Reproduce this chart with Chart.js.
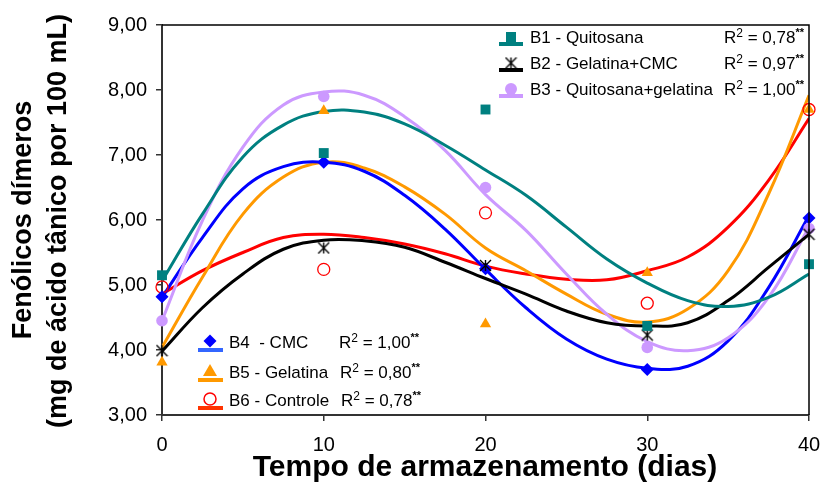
<!DOCTYPE html>
<html>
<head>
<meta charset="utf-8">
<script src="https://cdn.jsdelivr.net/npm/chart.js@4.4.1/dist/chart.umd.min.js"></script>
<style>
  html, body { margin: 0; padding: 0; background: #fff; }
  #wrap { width: 821px; height: 484px; position: relative; }
</style>
</head>
<body>
<div id="wrap"><canvas id="c" width="821" height="484"></canvas></div>
<script>
// Storage days for the measured samples
const days = [0, 10, 20, 30, 40];

// Measured dimeric phenolics (mg tannic acid / 100 mL)
const b1Values = [5.15, 7.03, 7.70, 4.37, 5.32];
const b2Values = [3.99, 5.57, 5.30, 4.23, 5.78];
const b3Values = [4.45, 7.90, 6.50, 4.04, 5.87];
const b4Values = [4.82, 6.89, 5.25, 3.70, 6.03];
const b5Values = [3.81, 7.68, 4.40, 5.19, 7.70];
const b6Values = [4.97, 5.24, 6.11, 4.72, 7.70];

// Polynomial trend lines, sampled every 2.5 days
const trendDays = [0, 2.5, 5, 7.5, 10, 12.5, 15, 17.5, 20, 22.5, 25, 27.5, 30, 32.5, 35, 37.5, 40];
const b1Trend = [5.06, 6.09, 6.97, 7.46, 7.67, 7.66, 7.48, 7.15, 6.77, 6.38, 5.89, 5.40, 5.03, 4.76, 4.67, 4.81, 5.17];
const b2Trend = [3.98, 4.65, 5.17, 5.55, 5.69, 5.68, 5.58, 5.35, 5.10, 4.86, 4.60, 4.42, 4.37, 4.42, 4.76, 5.27, 5.78];
const b3Trend = [4.45, 5.99, 7.12, 7.77, 7.97, 7.92, 7.59, 7.07, 6.39, 5.84, 5.17, 4.55, 4.13, 3.99, 4.19, 4.81, 5.89];
const b4Trend = [4.81, 5.73, 6.48, 6.82, 6.89, 6.75, 6.38, 5.86, 5.24, 4.65, 4.17, 3.86, 3.72, 3.75, 4.14, 4.96, 6.07];
const b5Trend = [4.04, 5.12, 6.09, 6.66, 6.89, 6.80, 6.51, 6.09, 5.57, 5.22, 4.86, 4.55, 4.43, 4.63, 5.22, 6.40, 7.92];
const b6Trend = [4.86, 5.22, 5.50, 5.73, 5.78, 5.73, 5.63, 5.48, 5.29, 5.17, 5.09, 5.08, 5.22, 5.43, 5.89, 6.61, 7.56];

// Legend texts
const seriesNames = ['B1 - Quitosana', 'B2 - Gelatina+CMC', 'B3 - Quitosana+gelatina',
                     'B4  - CMC', 'B5 - Gelatina', 'B6 - Controle'];
const r2Values = ['0,78', '0,97', '1,00', '1,00', '0,80', '0,78'];

const FONT = '"Liberation Sans", Arial, sans-serif';
const colors = ['#008080', '#000000', '#CC99FF', '#0000FF', '#FF9900', '#FF0000'];
const legendLineColors = ['#008080', '#000000', '#CC99FF', '#3366FF', '#FF9900', '#FF3300'];

// asterisk-like marker: an X crossed by a vertical stroke
function makeStar(size, color) {
  const cv = document.createElement('canvas');
  cv.width = size; cv.height = size;
  const g = cv.getContext('2d');
  g.strokeStyle = color; g.lineWidth = 1.4;
  const m = 1, s = size - 1;
  g.beginPath();
  g.moveTo(m, m); g.lineTo(s, s);
  g.moveTo(s, m); g.lineTo(m, s);
  g.moveTo(size / 2, m); g.lineTo(size / 2, s);
  g.stroke();
  return cv;
}
const starImg = makeStar(13, '#000');

const toXY = (xs, ys) => xs.map((x, i) => ({ x: x, y: ys[i] }));

const trends = [b1Trend, b2Trend, b3Trend, b4Trend, b5Trend, b6Trend];
const values = [b1Values, b2Values, b3Values, b4Values, b5Values, b6Values];
const markerStyles = [
  { pointStyle: 'rect', radius: 7, fill: true },
  { pointStyle: starImg, radius: 6.5, fill: false },
  { pointStyle: 'circle', radius: 5.8, fill: true },
  { pointStyle: 'rectRot', radius: 6.5, fill: true },
  { pointStyle: 'triangle', radius: 6.5, fill: true },
  { pointStyle: 'circle', radius: 6, fill: false }
];

const datasets = [];
trends.forEach((t, i) => {
  datasets.push({
    type: 'line',
    label: seriesNames[i] + ' (tendência)',
    data: toXY(trendDays, t),
    borderColor: colors[i],
    borderWidth: 3,
    pointRadius: 0,
    tension: 0.4,
    fill: false,
    order: 2
  });
});
values.forEach((v, i) => {
  const m = markerStyles[i];
  datasets.push({
    type: 'scatter',
    label: seriesNames[i],
    data: toXY(days, v),
    pointStyle: m.pointStyle,
    pointRadius: m.radius,
    pointHoverRadius: m.radius,
    backgroundColor: m.fill ? colors[i] : 'rgba(0,0,0,0)',
    borderColor: colors[i],
    borderWidth: m.fill ? 0 : 1.3,
    showLine: false,
    clip: false,
    order: 1
  });
});

function drawMarker(ctx, kind, x, y, color) {
  ctx.save();
  ctx.fillStyle = color; ctx.strokeStyle = color;
  ctx.beginPath();
  if (kind === 0) {
    ctx.fillRect(x - 5, y - 5, 10, 10);
  } else if (kind === 1) {
    ctx.drawImage(starImg, x - 6.5, y - 6.5);
  } else if (kind === 2) {
    ctx.arc(x, y, 6, 0, Math.PI * 2); ctx.fill();
  } else if (kind === 3) {
    ctx.moveTo(x, y - 6.5); ctx.lineTo(x + 6.5, y); ctx.lineTo(x, y + 6.5); ctx.lineTo(x - 6.5, y);
    ctx.closePath(); ctx.fill();
  } else if (kind === 4) {
    ctx.moveTo(x, y - 7); ctx.lineTo(x + 7, y + 5); ctx.lineTo(x - 7, y + 5);
    ctx.closePath(); ctx.fill();
  } else {
    ctx.lineWidth = 1.5;
    ctx.arc(x, y, 6, 0, Math.PI * 2); ctx.stroke();
  }
  ctx.restore();
}

// "R² = v**" with superscripts; returns width, draws when draw = true
function r2Text(ctx, x, y, v, draw) {
  const big = '17px ' + FONT, small = '12px ' + FONT, tiny = '11px ' + FONT;
  let cx = x;
  ctx.font = big;
  if (draw) ctx.fillText('R', cx, y);
  cx += ctx.measureText('R').width;
  ctx.font = small;
  if (draw) ctx.fillText('2', cx, y - 4);
  cx += ctx.measureText('2').width;
  ctx.font = big;
  const mid = ' = ' + v;
  if (draw) ctx.fillText(mid, cx, y);
  cx += ctx.measureText(mid).width;
  ctx.font = 'bold ' + tiny;
  if (draw) ctx.fillText('**', cx, y - 5);
  cx += ctx.measureText('**').width;
  return cx - x;
}

const decorPlugin = {
  id: 'decor',
  afterDraw(chart) {
    const ctx = chart.ctx;
    const a = chart.chartArea;
    ctx.save();
    // frame on top and right
    ctx.strokeStyle = '#000';
    ctx.lineWidth = 1.5;
    ctx.beginPath();
    ctx.moveTo(a.left, a.top); ctx.lineTo(a.right, a.top); ctx.lineTo(a.right, a.bottom);
    ctx.stroke();

    ctx.fillStyle = '#000';
    ctx.textBaseline = 'middle';
    ctx.textAlign = 'left';

    // upper legend
    const rows1 = [38, 64, 90];
    for (let i = 0; i < 3; i++) {
      const y = rows1[i];
      ctx.fillStyle = legendLineColors[i];
      ctx.fillRect(499, y + 4, 24, 4);
      drawMarker(ctx, i, 511, y - 1, colors[i]);
      ctx.fillStyle = '#000';
      ctx.font = '17px ' + FONT;
      ctx.fillText(seriesNames[i], 530, y);
      const w = r2Text(ctx, 0, y, r2Values[i], false);
      r2Text(ctx, 804 - w, y, r2Values[i], true);
    }
    // lower legend
    const rows2 = [343, 373, 401];
    for (let j = 0; j < 3; j++) {
      const i = j + 3;
      const y = rows2[j];
      ctx.fillStyle = legendLineColors[i];
      ctx.fillRect(198, y + 5, 25, 4);
      drawMarker(ctx, i, 210, y - 2, colors[i]);
      ctx.fillStyle = '#000';
      ctx.font = '17px ' + FONT;
      ctx.fillText(seriesNames[i], 229, y);
      r2Text(ctx, 339 + j, y, r2Values[i], true);
    }

    // axis titles
    ctx.textAlign = 'center';
    ctx.font = 'bold 30px ' + FONT;
    ctx.fillText('Tempo de armazenamento (dias)', 485, 468);
    ctx.save();
    ctx.translate(24, 220);
    ctx.rotate(-Math.PI / 2);
    ctx.font = 'bold 27px ' + FONT;
    ctx.fillText('Fenólicos dímeros', 0, 0);
    ctx.restore();
    ctx.save();
    ctx.translate(59, 221);
    ctx.rotate(-Math.PI / 2);
    ctx.font = 'bold 27px ' + FONT;
    ctx.fillText('(mg de ácido tânico por 100 mL)', 0, 0);
    ctx.restore();
    ctx.restore();
  }
};

new Chart(document.getElementById('c'), {
  data: { datasets: datasets },
  options: {
    responsive: false,
    animation: false,
    events: [],
    layout: { padding: { top: 25, right: 12, left: 0, bottom: 0 } },
    plugins: { legend: { display: false }, tooltip: { enabled: false } },
    scales: {
      x: {
        type: 'linear', min: 0, max: 40,
        afterFit(s) { s.height = 69; s.paddingRight = 0; s.paddingLeft = 0; },
        ticks: { stepSize: 10, color: '#000', font: { family: FONT, size: 20 }, padding: 12 },
        grid: { display: true, drawOnChartArea: false, drawTicks: true, tickLength: 6, color: '#333', lineWidth: 1.5 },
        border: { display: true, color: '#333', width: 2 }
      },
      y: {
        type: 'linear', min: 3, max: 9,
        afterFit(s) { s.width = 162; s.paddingTop = 0; s.paddingBottom = 0; },
        ticks: {
          stepSize: 1, color: '#000', font: { family: FONT, size: 20 }, padding: 9,
          callback: (v) => v.toFixed(2).replace('.', ',')
        },
        grid: { display: true, drawOnChartArea: false, drawTicks: true, tickLength: 6, color: '#333', lineWidth: 1.5 },
        border: { display: true, color: '#333', width: 2 }
      }
    }
  },
  plugins: [decorPlugin]
});
</script>
</body>
</html>
